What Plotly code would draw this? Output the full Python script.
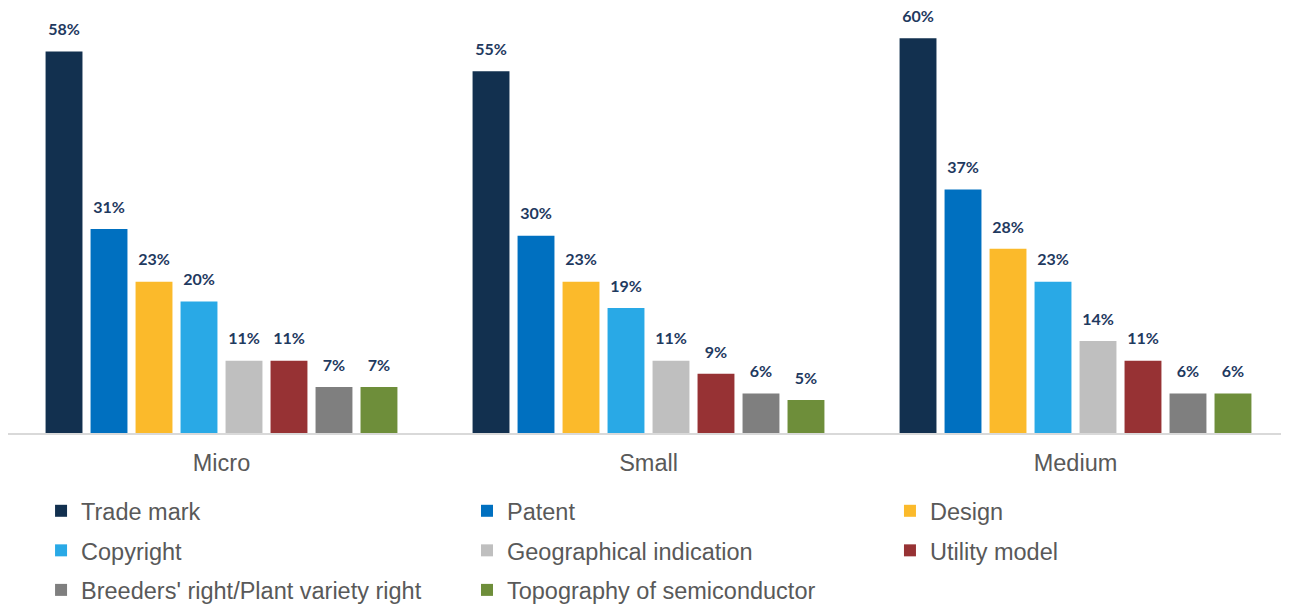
import plotly.graph_objects as go

# categories (company size) and IP right types
sizes = ["Micro", "Small", "Medium"]
rights = [
    "Trade mark", "Patent", "Design", "Copyright",
    "Geographical indication", "Utility model",
    "Breeders' right/Plant variety right", "Topography of semiconductor",
]
colors = ["#12304F", "#0070C0", "#FBBA2B", "#29A9E6",
          "#BFBFBF", "#973234", "#7F7F7F", "#6E8E3A"]

# share of firms owning each right, by size (%)
trade_mark = [58, 55, 60]
patent = [31, 30, 37]
design = [23, 23, 28]
copyright_ = [20, 19, 23]
geo_indication = [11, 11, 14]
utility_model = [11, 9, 11]
breeders_right = [7, 6, 6]
topography = [7, 5, 6]

series = [trade_mark, patent, design, copyright_,
          geo_indication, utility_model, breeders_right, topography]

# legend laid out in three columns, filled row by row
legend_of = ["legend", "legend2", "legend3"]

fig = go.Figure()
for i, (name, vals, col) in enumerate(zip(rights, series, colors)):
    fig.add_trace(go.Bar(
        x=sizes,
        y=vals,
        name=name,
        marker=dict(color=col, line=dict(width=0)),
        offsetgroup=str(i),
        alignmentgroup="a",
        legend=legend_of[i % 3],
        legendgroup=name,
    ))
    # value labels sitting a little above each bar
    fig.add_trace(go.Scatter(
        x=sizes,
        y=vals,
        mode="markers+text",
        text=[f"<b>{v}%</b>" for v in vals],
        textposition="top center",
        textfont=dict(family="Lato, Open Sans, sans-serif", size=16, color="#1F3A5F"),
        marker=dict(size=18, opacity=0),
        offsetgroup=str(i),
        alignmentgroup="a",
        showlegend=False,
        hoverinfo="skip",
        cliponaxis=False,
    ))

legend_font = dict(size=23.5, color="#595959")
legend_common = dict(
    orientation="v",
    xanchor="left",
    yanchor="top",
    y=-0.1318,
    font=legend_font,
    tracegroupgap=6,
    bgcolor="rgba(0,0,0,0)",
)

fig.update_layout(
    width=1289,
    height=608,
    barmode="group",
    bargap=0.157,
    bargroupgap=0.18,
    scattermode="group",
    scattergap=0.157,
    plot_bgcolor="white",
    paper_bgcolor="white",
    margin=dict(l=0, r=8, t=0, b=183, autoexpand=False),
    font=dict(family="Liberation Sans, Arial, sans-serif", color="#595959"),
    showlegend=True,
    legend=dict(x=0.0258, **legend_common),
    legend2=dict(x=0.3583, **legend_common),
    legend3=dict(x=0.6885, **legend_common),
)

fig.update_xaxes(
    showline=True,
    linecolor="#D9D9D9",
    linewidth=2,
    showgrid=False,
    ticks="",
    ticklabelstandoff=8,
    tickfont=dict(size=23.5, color="#595959"),
)
fig.update_yaxes(
    visible=False,
    range=[0, 64.6],
    showgrid=False,
)

fig.write_html("out.html")
